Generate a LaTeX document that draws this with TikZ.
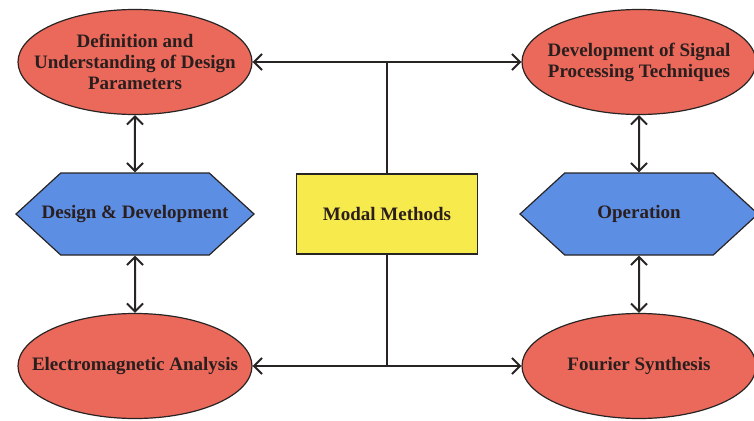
\documentclass[tikz,border=0pt]{standalone}
\usepackage{fontspec}
\setmainfont{Liberation Serif}
\usepackage{tikz}
\usetikzlibrary{shapes,arrows}
\usetikzlibrary{arrows.meta}
\definecolor{goalred}{RGB}{234,105,90}
\definecolor{phaseblue}{RGB}{92,142,228}
\definecolor{methodyellow}{RGB}{247,234,77}
\definecolor{edge}{RGB}{40,36,36}
\definecolor{ink}{RGB}{42,30,30}

\begin{document}
\begin{tikzpicture}[x=1pt,y=1pt,node distance=252pt]
\tikzstyle{every node}=[font=\fontsize{19}{21}\selectfont\bfseries, text=ink]
\tikzstyle{goal}=[ellipse, draw=edge, fill=goalred, line width=1.2pt, minimum width=234pt, minimum height=105pt, inner xsep=-70pt, inner ysep=-35pt, align=center]
\tikzstyle{phase}=[signal, signal to=west and east, signal pointer angle=85, draw=edge, fill=phaseblue, line width=1.2pt, minimum width=238pt, minimum height=82pt, inner xsep=-20pt, inner ysep=0pt]
\tikzstyle{method}=[rectangle, draw=edge, fill=methodyellow, line width=1.5pt, minimum width=181pt, minimum height=80pt]
\tikzstyle{link}=[{Straight Barb[length=8pt,width=16pt]}-{Straight Barb[length=8pt,width=16pt]}, line width=2pt, draw=edge]
\useasboundingbox [fill=white] (0,0) rectangle (754,-420);
\node (modal) [method] at (387,-214) {Modal Methods};
\node (design) [phase, left of=modal] {Design \& Development};
\node (operation) [phase, right of=modal] {Operation};
\node (params) [goal, node distance=152pt, above of=design] {Definition and\\Understanding of Design\\Parameters};
\node (em) [goal, node distance=152pt, below of=design] {Electromagnetic Analysis};
\node (dsp) [goal, node distance=152pt, above of=operation] {Development of Signal\\Processing Techniques};
\node (fourier) [goal, node distance=152pt, below of=operation] {Fourier Synthesis};
% modal methods feed both ends
\draw [link] (params) -- (dsp);
\draw [link] (em) -- (fourier);
\draw [line width=2pt, draw=edge] (modal) -- (modal |- params);
\draw [line width=2pt, draw=edge] (modal) -- (modal |- em);
% columns
\draw [link] (params) -- (design);
\draw [link] (design) -- (em);
\draw [link] (dsp) -- (operation);
\draw [link] (operation) -- (fourier);
\end{tikzpicture}
\end{document}
